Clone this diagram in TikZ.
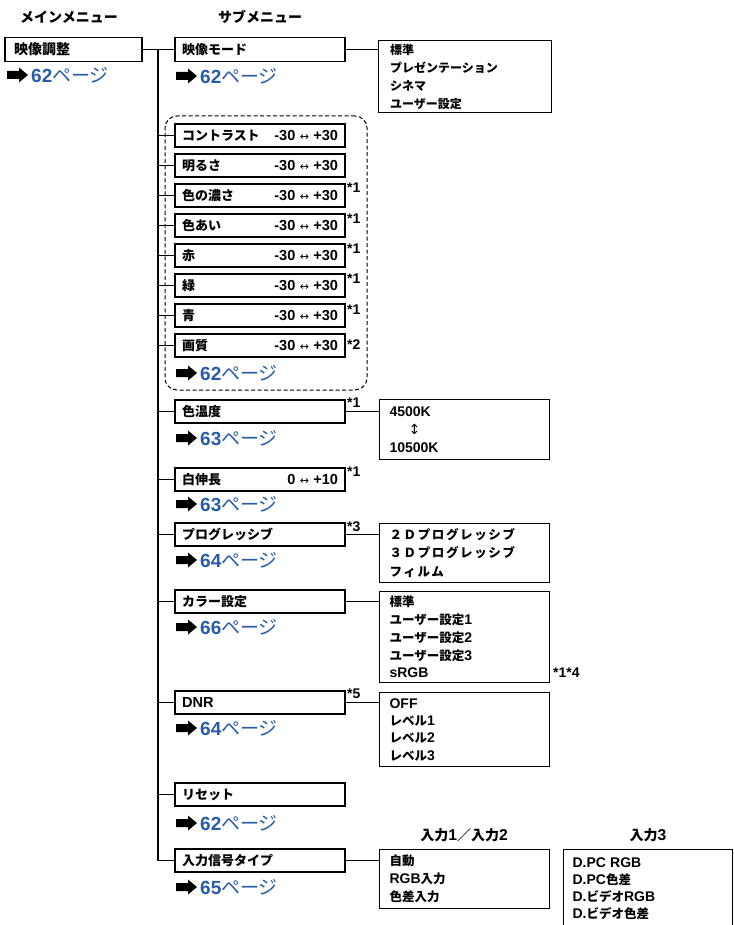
\documentclass[tikz,border=0pt]{standalone}
\usepackage{fontspec}
\setmainfont{Noto Sans CJK JP}
\newfontfamily\lat{Liberation Sans}[Scale=1.12]
\newfontfamily\latl{Liberation Sans}
\newfontfamily\djv{DejaVu Sans}
\definecolor{linkblue}{RGB}{40,92,170}
\newcommand\pg[1]{{\latl\bfseries #1}ページ}
\newcommand\lr{{\djv\mdseries\fontsize{11}{12}\selectfont ↔}}
\tikzset{
  conn/.style={line width=1.3pt},
  mbox/.style={draw, line width=1.1pt, minimum width=170pt, minimum height=23pt,
    inner xsep=7pt, inner ysep=0pt, text width=156pt, align=left,
    font=\fontsize{13}{14}\selectfont\bfseries},
  rbox/.style={draw, line width=1.1pt, anchor=north west, minimum width=170pt,
    inner xsep=10pt, inner ysep=0pt, text width=150pt, align=left},
  title/.style={font=\fontsize{14}{16}\selectfont\bfseries, inner sep=0pt},
  head/.style={font=\fontsize{14}{16}\selectfont\bfseries, inner sep=0pt},
  star/.style={anchor=west, inner sep=0pt, font=\lat\fontsize{12.5}{14}\selectfont\bfseries},
  link/.style={anchor=west, inner sep=0pt, text=linkblue, font=\fontsize{19}{22}\selectfont},
  larrow/.pic={\fill (0,-4) -- (12,-4) -- (12,-7.5) -- (21,0) -- (12,7.5) -- (12,4) -- (0,4) -- cycle;},
}
\begin{document}
\begin{tikzpicture}[x=1pt,y=-1pt]
\useasboundingbox (0,0) rectangle (733,925);
\fill[white] (0,0) rectangle (733,925);
\clip (0,0) rectangle (733,925);

% titles
\node[title] (tmain) at (69,17) {メインメニュー};
\node[title] (tsub) at (260,17) {サブメニュー};

% main box
\node[mbox, minimum width=137pt, text width=119pt, inner xsep=9pt, minimum height=24pt, font=\fontsize{14}{15}\selectfont\bfseries] (main) at (73.5,49.5) {映像調整};
\pic at (7,75) {larrow};
\node[link] (lmain) at (31,75) {\pg{62}};

% dashed group
\node[draw, dashed, dash pattern=on 4pt off 2.5pt, line width=1pt, rounded corners=12pt,
  minimum width=202pt, minimum height=274pt, inner sep=0pt] (grp) at (266,253) {};

% sub boxes
\node[mbox, minimum height=24pt] (mode) at (260,49.5) {映像モード};
\node[mbox] (c1) at (260,135.5) {コントラスト\hfill{\lat -30 \lr{} +30}};
\node[mbox] (c2) at (260,165.5) {明るさ\hfill{\lat -30 \lr{} +30}};
\node[mbox] (c3) at (260,195.5) {色の濃さ\hfill{\lat -30 \lr{} +30}};
\node[mbox] (c4) at (260,225.5) {色あい\hfill{\lat -30 \lr{} +30}};
\node[mbox] (c5) at (260,255.5) {赤\hfill{\lat -30 \lr{} +30}};
\node[mbox] (c6) at (260,285.5) {緑\hfill{\lat -30 \lr{} +30}};
\node[mbox] (c7) at (260,315.5) {青\hfill{\lat -30 \lr{} +30}};
\node[mbox] (c8) at (260,345.5) {画質\hfill{\lat -30 \lr{} +30}};
\node[mbox] (temp) at (260,411.5) {色温度};
\node[mbox] (white) at (260,479.5) {白伸長\hfill{\lat 0 \lr{} +10}};
\node[mbox] (prog) at (260,534.5) {プログレッシブ};
\node[mbox] (color) at (260,601.5) {カラー設定};
\node[mbox] (dnr) at (260,702.5) {{\lat DNR}};
\node[mbox] (reset) at (260,794.5) {リセット};
\node[mbox] (inp) at (260,860.5) {入力信号タイプ};

% links
\pic at (176,76) {larrow};  \node[link] (lmode) at (200,76) {\pg{62}};
\pic at (176,373) {larrow}; \node[link] (lgrp) at (200,373) {\pg{62}};
\pic at (176,438) {larrow}; \node[link] (ltemp) at (200,438) {\pg{63}};
\pic at (176,504) {larrow}; \node[link] (lwhite) at (200,504) {\pg{63}};
\pic at (176,560) {larrow}; \node[link] (lprog) at (200,560) {\pg{64}};
\pic at (176,627) {larrow}; \node[link] (lcolor) at (200,627) {\pg{66}};
\pic at (176,728) {larrow}; \node[link] (ldnr) at (200,728) {\pg{64}};
\pic at (176,823) {larrow}; \node[link] (lreset) at (200,823) {\pg{62}};
\pic at (176,887) {larrow}; \node[link] (linp) at (200,887) {\pg{65}};

% stars
\node[star] (s3) at (347,188) {*1};
\node[star] (s4) at (347,219) {*1};
\node[star] (s5) at (347,249) {*1};
\node[star] (s6) at (347,279) {*1};
\node[star] (s7) at (347,310) {*1};
\node[star] (s8) at (347,345) {*2};
\node[star] (stemp) at (347,403) {*1};
\node[star] (swhite) at (347,472) {*1};
\node[star] (sprog) at (347,527) {*3};
\node[star] (sdnr) at (347,694) {*5};
\node[star] (scolor) at (553,673) {*1*4};

% right boxes
\node[rbox, minimum width=173pt, minimum height=72pt, font=\fontsize{12}{18}\selectfont\bfseries] (r1) at (378,40)
  {標準\\プレゼンテーション\\シネマ\\ユーザー設定};
\node[rbox, minimum height=60pt, font=\fontsize{12.5}{18}\selectfont\bfseries] (r2) at (379,399)
  {{\lat 4500K}\\\hspace*{19pt}{\djv\mdseries\fontsize{14}{14}\selectfont ↕}\\{\lat 10500K}};
\node[rbox, minimum height=59pt, font=\fontsize{12.5}{18.5}\selectfont\bfseries] (r3) at (379,523)
  {\addfontfeature{LetterSpace=13}２Ｄプログレッシブ\\３Ｄプログレッシブ\\フィルム};
\node[rbox, minimum height=91pt, font=\fontsize{12.5}{17.75}\selectfont\bfseries] (r4) at (379,591)
  {標準\\ユーザー設定{\lat 1}\\ユーザー設定{\lat 2}\\ユーザー設定{\lat 3}\\{\lat sRGB}};
\node[rbox, minimum height=74pt, font=\fontsize{12.5}{17.3}\selectfont\bfseries] (r5) at (379,692)
  {{\lat OFF}\\レベル{\lat 1}\\レベル{\lat 2}\\レベル{\lat 3}};
\node[rbox, minimum height=59pt, font=\fontsize{12.5}{18}\selectfont\bfseries] (r6) at (379,849)
  {自動\\{\lat RGB}入力\\色差入力};
\node[rbox, minimum width=169pt, inner xsep=9pt, text width=151pt, minimum height=79pt, font=\fontsize{12.5}{17}\selectfont\bfseries] (r7) at (563,849)
  {{\lat D.PC RGB}\\{\lat D.PC}色差\\{\lat D.}ビデオ{\lat RGB}\\{\lat D.}ビデオ色差};

% headers
\node[head] (h12) at (464,835) {入力{\lat 1}／入力{\lat 2}};
\node[head] (h3) at (648,835) {入力{\lat 3}};

% connectors
\draw[conn] (main.east) -- (mode.west);
\coordinate (t0) at (158,49.5);
\draw[conn] (t0) |- (inp.west);
\foreach \n in {c1,c2,c3,c4,c5,c6,c7,c8,temp,white,prog,color,dnr,reset}
  \draw[conn] (t0 |- \n.west) -- (\n.west);
\draw[conn] (mode.east) -- (mode.east -| r1.west);
\draw[conn] (temp.east) -- (temp.east -| r2.west);
\draw[conn] (prog.east) -- (prog.east -| r3.west);
\draw[conn] (color.east) -- (color.east -| r4.west);
\draw[conn] (dnr.east) -- (dnr.east -| r5.west);
\draw[conn] (inp.east) -- (inp.east -| r6.west);
\end{tikzpicture}
\end{document}
